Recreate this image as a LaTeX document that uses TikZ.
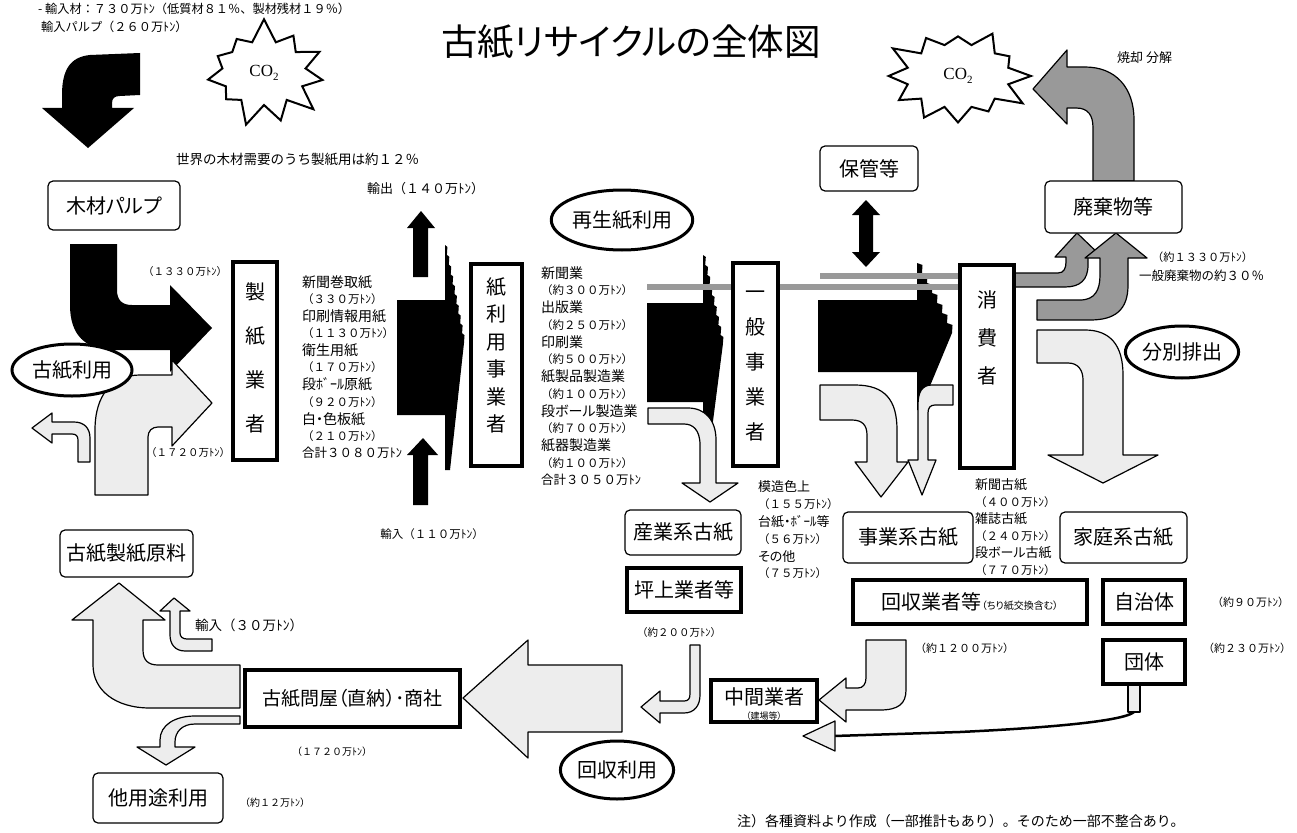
\documentclass[tikz,border=0pt]{standalone}
\usepackage{fontspec}
\setmainfont{Noto Sans CJK JP}[RawFeature=+palt]
\newfontfamily\jpw{Noto Sans CJK JP}
\newfontfamily\serifco{Liberation Serif}
\usetikzlibrary{shapes.geometric,shapes.symbols}
\definecolor{lg}{gray}{0.93}
\definecolor{mg}{gray}{0.6}
\tikzset{
 lab/.style={inner sep=0pt, font=\fontsize{12.5}{15}\selectfont},
 col/.style={inner sep=0pt, anchor=west, font=\fontsize{14}{15}\selectfont},
 wlab/.style={inner sep=0pt, anchor=west},
 big/.style={font=\fontsize{20}{24}\selectfont},
 rbox/.style={draw, line width=1.2pt, rounded corners=5pt, fill=white, inner sep=0pt, big},
 tbox/.style={draw, line width=3.5pt, fill=white, inner sep=0pt, big},
 ell/.style={ellipse, draw, line width=3pt, fill=white, inner sep=0pt, big},
 larrow/.style={draw, line width=1.2pt, fill=lg, line join=round},
 garrow/.style={draw, line width=1.2pt, fill=mg, line join=round},
 barrow/.style={fill=black},
 gbar/.style={draw=mg, line width=6pt},
 burst/.style={starburst, draw, line width=2pt, fill=white, starburst point height=24pt},
 vtext/.style={inner sep=0pt, align=center, anchor=north}
}
\newcommand\cotwo{{\serifco\fontsize{17}{17}\selectfont CO\raisebox{-0.25em}{\fontsize{11}{11}\selectfont 2}}}
\newcommand\wf[1]{\jpw\fontsize{#1}{#1}\selectfont}
\newcommand\numf{\jpw\fontsize{11.5}{13}\selectfont}
\newcommand\sumf{\jpw\fontsize{12.5}{14}\selectfont}
\begin{document}
\begin{tikzpicture}[x=1pt,y=-1pt]
\useasboundingbox[fill=white] (0,0) rectangle (1297,832);

% ---------- title and top texts
\node[inner sep=0pt, font=\fontsize{36.5}{38}\selectfont] (title) at (631,42) {古紙リサイクルの全体図};
\node[wlab, font=\wf{12.2}] (tl1) at (38,9) {- 輸入材：７３０万ﾄﾝ（低質材８１％、製材残材１９％）};
\node[wlab, font=\wf{12.2}] (tl2) at (41,27) {輸入パルプ（２６０万ﾄﾝ）};
\node[wlab, font=\wf{13.5}] (world) at (176,160) {世界の木材需要のうち製紙用は約１２％};

% ---------- CO2 stars
\node[burst, starburst points=11, random starburst=7, minimum width=132pt, minimum height=112pt] (star1) at (264,73) {\cotwo};
\node[burst, starburst points=12, random starburst=3, minimum width=152pt, minimum height=112pt] (star2) at (958,76) {\cotwo};

% ---------- black arrows left
\path[barrow] (140,53) -- (90,55) .. controls (70,57) and (62,70) .. (62,95) -- (62,108) -- (42,108) -- (88,148) -- (134,108) -- (112,108) -- (112,103) .. controls (112,98) and (115,96) .. (120,96) -- (140,95) -- cycle;
\path[barrow] (70,244) -- (117,244) -- (117,290) .. controls (117,300) and (122,305) .. (132,305) -- (170,305) -- (170,285) -- (212,328) -- (170,372) -- (170,350) -- (115,350) .. controls (85,350) and (70,335) .. (70,305) -- cycle;
\node[wlab, font=\wf{10.5}] (t1330) at (143,272) {（１３３０万ﾄﾝ）};

% export / import arrows
\path[barrow] (413,277) -- (413,228) -- (407,228) -- (421,211) -- (435,228) -- (428,228) -- (428,277) -- cycle;
\node[wlab, font=\wf{13}] (exp) at (367,189) {輸出（１４０万ﾄﾝ）};
\path[barrow] (413,505) -- (413,455) -- (407,455) -- (423,438) -- (438,455) -- (428,455) -- (428,505) -- cycle;
\node[inner sep=0pt, font=\wf{11.5}] (imp) at (432,534) {輸入（１１０万ﾄﾝ）};

% black stacked shape 1
\path[barrow] (397,300) -- (445,300) -- (445,245) \foreach \k in {1,...,10} { -- ++(2.4,2) -- ++(-0.5,7.8)} -- (450,470) -- (445,470) -- (445,415) -- (397,415) -- cycle;
% black stacked shape 2
\path[barrow] (647,303) -- (703,303) -- (703,255) \foreach \k in {1,...,9} { -- ++(2.8,2) -- ++(-0.6,8)} -- (708,460) -- (703,460) -- (703,402) -- (647,402) -- cycle;
% black stacked shape 3
\path[barrow] (818,300) -- (917,300) -- (917,263) \foreach \k in {1,...,7} { -- ++(5.5,2) -- ++(-0.5,8)} -- (920,410) -- (917,410) -- (917,372) -- (818,372) -- cycle;

% gray bars
\draw[gbar] (647,287) -- (962,287);
\draw[gbar] (820,276) -- (962,276);

% ---------- light arrows middle
\path[larrow] (648,408) -- (688,408) .. controls (705,408) and (716,420) .. (716,440) -- (716,483) -- (738,483) -- (710,502) -- (682,483) -- (700,483) -- (700,445) .. controls (700,430) and (693,424) .. (684,424) -- (648,424) -- cycle;
\path[larrow] (820,385) -- (855,385) .. controls (885,385) and (897,400) .. (897,430) -- (897,462) -- (908,462) -- (881,497) -- (855,462) -- (867,462) -- (867,435) .. controls (867,425) and (862,420) .. (852,420) -- (820,420) -- cycle;
\path[larrow] (953,385) -- (953,405) -- (935,405) .. controls (930,405) and (928,408) .. (928,413) -- (928,460) -- (936,460) -- (922,495) -- (908,460) -- (918,460) -- (918,405) .. controls (918,392) and (922,385) .. (932,385) -- cycle;

% double arrow
\path[barrow] (866,200) -- (880,215) -- (873,215) -- (873,252) -- (880,252) -- (866,267) -- (852,252) -- (859,252) -- (859,215) -- (852,215) -- cycle;

% ---------- right side gray arrows
\path[garrow] (1093,181) -- (1093,128) .. controls (1093,115) and (1088,108) .. (1076,108) -- (1067,108) -- (1067,124) -- (1033,89) -- (1067,50) -- (1067,67) -- (1085,67) .. controls (1115,67) and (1134,87) .. (1134,120) -- (1134,181) -- cycle;
\node[wlab, font=\wf{13}] (burn) at (1117,58) {焼却 分解};
\path[garrow] (1015,273) -- (1058,273) .. controls (1064,273) and (1066,268) .. (1066,262) -- (1066,257) -- (1055,257) -- (1077,233) -- (1102,257) -- (1088,257) -- (1088,265) .. controls (1088,280) and (1080,287) .. (1065,287) -- (1015,287) -- cycle;
\path[garrow] (1037,300) -- (1080,300) .. controls (1095,300) and (1100,290) .. (1100,275) -- (1100,258) -- (1085,258) -- (1116,233) -- (1147,258) -- (1128,258) -- (1128,285) .. controls (1128,310) and (1115,320) .. (1090,320) -- (1037,320) -- cycle;
\node[wlab, font=\wf{11.2}] (w1330) at (1152,257) {（約１３３０万ﾄﾝ）};
\node[wlab, font=\wf{12.5}] (w30) at (1139,276) {一般廃棄物の約３０％};
\path[larrow] (1037,330) -- (1085,330) .. controls (1110,330) and (1123,345) .. (1123,375) -- (1123,455) -- (1158,455) -- (1103,483) -- (1048,455) -- (1083,455) -- (1083,380) .. controls (1083,370) and (1078,363) .. (1068,363) -- (1037,363) -- cycle;

% ---------- left light arrows
\path[larrow] (95,495) -- (95,430) .. controls (95,395) and (112,375) .. (140,375) -- (172,375) -- (172,360) -- (212,403) -- (172,446) -- (172,427) -- (158,427) .. controls (152,427) and (148,431) .. (148,437) -- (148,495) -- cycle;
\path[larrow] (32,428) -- (52,413) -- (52,422) -- (74,422) .. controls (84,422) and (90,428) .. (90,438) -- (90,462) -- (78,462) -- (78,440) .. controls (78,436) and (76,434) .. (72,434) -- (52,434) -- (52,443) -- cycle;
\node[wlab, font=\wf{10.5}] (t1720a) at (146,453) {（１７２０万ﾄﾝ）};

\path[larrow] (119,583) -- (165,620) -- (143,620) -- (143,650) .. controls (143,660) and (148,665) .. (158,665) -- (240,665) -- (240,708) -- (150,708) .. controls (115,708) and (93,690) .. (93,665) -- (93,620) -- (72,620) -- cycle;
\path[larrow] (174,598) -- (190,611) -- (180,611) -- (180,633) .. controls (180,637) and (183,639) .. (187,639) -- (212,639) -- (212,651) -- (185,651) .. controls (175,651) and (170,644) .. (170,635) -- (170,611) -- (160,611) -- cycle;
\node[wlab, font=\wf{13.5}] (imp30) at (195,625) {輸入（３０万ﾄﾝ）};
\path[larrow] (240,716) -- (240,724) -- (195,724) .. controls (182,724) and (175,732) .. (175,742) -- (175,747) -- (195,747) -- (166,765) -- (137,747) -- (160,747) -- (160,740) .. controls (160,725) and (175,716) .. (195,716) -- cycle;

% big left arrow
\path[larrow] (622,665) -- (622,732) -- (528,732) -- (528,758) -- (463,698) -- (528,640) -- (528,665) -- cycle;
% thin arrow from 200
\path[larrow] (700,645) -- (700,695) .. controls (700,706) and (694,713) .. (684,713) -- (660,713) -- (660,723) -- (641,707) -- (660,691) -- (660,701) -- (684,701) .. controls (688,701) and (690,699) .. (690,694) -- (690,645) -- cycle;
% arrow from 1200
\path[larrow] (906,640) -- (906,690) .. controls (906,704) and (898,710) .. (880,710) -- (846,710) -- (846,722) -- (819,700) -- (846,678) -- (846,688) -- (858,688) .. controls (863,688) and (866,684) .. (866,678) -- (866,640) -- cycle;
% long arrow from dantai
\path[larrow] (1128,684) rectangle (1140,712);
\draw[line width=2.5pt] (1134,712) .. controls (1120,724) and (1000,730) .. (960,732) -- (834,736);
\path[larrow] (835,721) -- (803,736) -- (835,751) -- cycle;

% ---------- boxes
\node[rbox, minimum width=132pt, minimum height=49pt] (mokuzai) at (114,205.5) {木材パルプ};
\node[tbox, minimum width=44pt, minimum height=198pt] (seishi) at (255,361) {};
\node[vtext, font=\fontsize{20}{44}\selectfont] (seishi-t) at (255,282) {製\\紙\\業\\者};
\node[tbox, minimum width=51pt, minimum height=202pt] (kami) at (496.5,365) {};
\node[vtext, font=\fontsize{20}{27.5}\selectfont] (kami-t) at (496.5,277) {紙\\利\\用\\事\\業\\者};
\node[tbox, minimum width=45pt, minimum height=203pt] (ippan) at (755.5,364.5) {};
\node[vtext, font=\fontsize{20}{35}\selectfont] (ippan-t) at (755.5,291) {一\\般\\事\\業\\者};
\node[tbox, minimum width=54pt, minimum height=203pt] (shohi) at (987,366.5) {};
\node[vtext, font=\fontsize{20}{38}\selectfont] (shohi-t) at (987,290) {消\\費\\者};
\node[rbox, minimum width=98pt, minimum height=45pt] (hokan) at (869,168.5) {保管等};
\node[rbox, minimum width=137pt, minimum height=52pt] (haiki) at (1113.5,207) {廃棄物等};
\node[ell, minimum width=120pt, minimum height=60pt] (saisei) at (622,220) {再生紙利用};
\node[ell, minimum width=120pt, minimum height=52pt] (koshiriyo) at (72,370) {古紙利用};
\node[ell, minimum width=105pt, minimum height=52pt] (bunbetsu) at (1182,352) {分別排出};
\node[ell, minimum width=112pt, minimum height=58pt] (kaishu) at (617,770) {回収利用};

\node[rbox, minimum width=116pt, minimum height=45pt] (sangyo) at (683,532.5) {産業系古紙};
\node[rbox, minimum width=130pt, minimum height=51pt] (jigyo) at (908,537.5) {事業系古紙};
\node[rbox, minimum width=127pt, minimum height=51pt] (katei) at (1123.5,537.5) {家庭系古紙};
\node[tbox, minimum width=114pt, minimum height=44pt] (tsubo) at (684,590) {坪上業者等};
\node[tbox, minimum width=234pt, minimum height=44pt] (kaishugyo) at (970,602) {回収業者等{\fontsize{10}{12}\selectfont（ちり紙交換含む）}};
\node[tbox, minimum width=82pt, minimum height=44pt] (jichi) at (1144,602) {自治体};
\node[tbox, minimum width=82pt, minimum height=44pt] (dantai) at (1144,662) {団体};
\node[tbox, minimum width=106pt, minimum height=42pt] (chukan) at (764,701) {};
\node[inner sep=0pt, big] (chukan-t) at (764,697) {中間業者};
\node[inner sep=0pt, font=\fontsize{9}{10}\selectfont] (chukan-s) at (764,716) {（建場等）};
\node[tbox, minimum width=215pt, minimum height=57pt, font=\fontsize{19}{22}\selectfont] (donya) at (352.5,698.5) {古紙問屋（直納）･商社};
\node[rbox, minimum width=133pt, minimum height=47pt] (genryo) at (126.5,553.5) {古紙製紙原料};
\node[rbox, minimum width=130pt, minimum height=50pt] (tayoto) at (158,798) {他用途利用};

% ---------- text columns
\foreach \t [count=\i] in {新聞巻取紙,{\numf（３３０万ﾄﾝ）},印刷情報用紙,{\numf（１１３０万ﾄﾝ）},衛生用紙,{\numf（１７０万ﾄﾝ）},段ﾎﾞｰﾙ原紙,{\numf（９２０万ﾄﾝ）},白・色板紙,{\numf（２１０万ﾄﾝ）},{\sumf 合計３０８０万ﾄﾝ}}
  \node[col] (ca\i) at (302,{282+17.1*(\i-1)}) {\t};
\foreach \t [count=\i] in {新聞業,{\numf（約３００万ﾄﾝ）},出版業,{\numf（約２５０万ﾄﾝ）},印刷業,{\numf（約５００万ﾄﾝ）},紙製品製造業,{\numf（約１００万ﾄﾝ）},段ボール製造業,{\numf（約７００万ﾄﾝ）},紙器製造業,{\numf（約１００万ﾄﾝ）},{\sumf 合計３０５０万ﾄﾝ}}
  \node[col] (cb\i) at (541,{273+17.25*(\i-1)}) {\t};
\foreach \t [count=\i] in {模造色上,{\numf（１５５万ﾄﾝ）},台紙・ﾎﾞｰﾙ等,{\numf（５６万ﾄﾝ）},その他,{\numf（７５万ﾄﾝ）}}
  \node[col, font=\fontsize{13}{15}\selectfont] (cc\i) at (758,{487+17.3*(\i-1)}) {\t};
\foreach \t [count=\i] in {新聞古紙,{\numf（４００万ﾄﾝ）},雑誌古紙,{\numf（２４０万ﾄﾝ）},段ボール古紙,{\numf（７７０万ﾄﾝ）}}
  \node[col, font=\fontsize{13}{15}\selectfont] (cd\i) at (975,{485+17*(\i-1)}) {\t};

% ---------- small labels lower
\node[wlab, font=\wf{10.5}] (t200) at (637,633) {（約２００万ﾄﾝ）};
\node[wlab, font=\wf{11}] (t1200) at (915,648) {（約１２００万ﾄﾝ）};
\node[wlab, font=\wf{11}] (t90) at (1212,602) {（約９０万ﾄﾝ）};
\node[wlab, font=\wf{11}] (t230) at (1203,648) {（約２３０万ﾄﾝ）};
\node[wlab, font=\wf{10}] (t1720b) at (292,752) {（１７２０万ﾄﾝ）};
\node[wlab, font=\wf{10}] (t12) at (240,803) {（約１２万ﾄﾝ）};
\node[wlab, font=\wf{14}] (note) at (737,821) {注）各種資料より作成（一部推計もあり）。そのため一部不整合あり。};
\end{tikzpicture}
\end{document}
